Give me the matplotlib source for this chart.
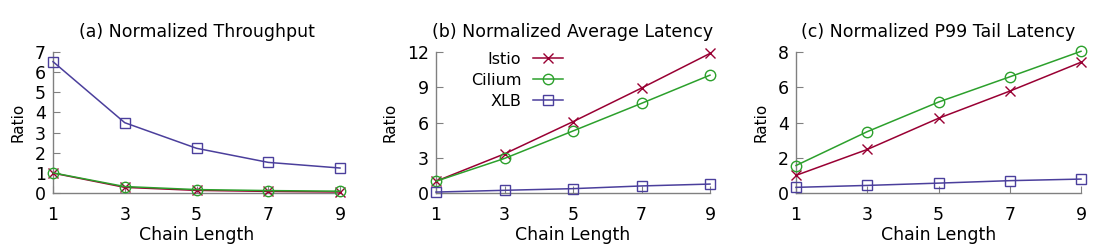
import matplotlib
matplotlib.use("Agg")
import matplotlib.pyplot as plt

chain = [1, 3, 5, 7, 9]

thr_istio = [0.99, 0.28, 0.13, 0.08, 0.05]
thr_cilium = [1.0, 0.32, 0.17, 0.12, 0.09]
thr_xlb = [6.52, 3.49, 2.22, 1.52, 1.24]

avg_istio = [1.0, 3.33, 6.07, 8.93, 11.88]
avg_cilium = [1.0, 2.94, 5.28, 7.63, 10.03]
avg_xlb = [0.08, 0.23, 0.37, 0.6, 0.76]

p99_istio = [1.0, 2.47, 4.24, 5.78, 7.42]
p99_cilium = [1.56, 3.48, 5.16, 6.59, 8.04]
p99_xlb = [0.32, 0.43, 0.56, 0.70, 0.79]

titles = ["(a) Normalized Throughput", "(b) Normalized Average Latency",
          "(c) Normalized P99 Tail Latency"]
ylims = [7, 12, 8]
yticks = [[0, 1, 2, 3, 4, 5, 6, 7], [0, 3, 6, 9, 12], [0, 2, 4, 6, 8]]

c_istio = "#990033"
c_cilium = "#2ca02c"
c_xlb = "#4b3f9c"

W, H = 1113, 247
plt.rcParams['font.family'] = ['DejaVu Sans']
fig = plt.figure(figsize=(W / 100, H / 100), dpi=100)

axes_px = [(53, 340), (436, 710), (796, 1081)]
top_px, bot_px = 52, 193

data = [(thr_istio, thr_cilium, thr_xlb), (avg_istio, avg_cilium, avg_xlb),
        (p99_istio, p99_cilium, p99_xlb)]

for i, (l, r) in enumerate(axes_px):
    ax = fig.add_axes([l / W, 1 - bot_px / H, (r - l) / W, (bot_px - top_px) / H])
    ist, cil, xlb = data[i]
    ax.plot(chain, ist, color=c_istio, marker='x', ms=7.5, mew=1.0, lw=1.1,
            mfc='none', label='Istio', clip_on=False, zorder=3)
    ax.plot(chain, cil, color=c_cilium, marker='o', ms=7.5, mew=1.0, lw=1.1,
            mfc='none', label='Cilium', clip_on=False, zorder=3)
    ax.plot(chain, xlb, color=c_xlb, marker='s', ms=7.5, mew=1.0, lw=1.1,
            mfc='none', label='XLB', clip_on=False, zorder=3)
    ax.set_xlim(1, 9)
    ax.set_ylim(0, ylims[i])
    ax.set_xticks(chain)
    ax.set_yticks(yticks[i])
    for s in ['top', 'right']:
        ax.spines[s].set_visible(False)
    for s in ['left', 'bottom']:
        ax.spines[s].set_color('#808080')
        ax.spines[s].set_linewidth(1.0)
    ax.tick_params(direction='in', length=5, color='#808080', labelsize=12.5,
                   pad=5)
    ax.tick_params(axis='x', pad=9)
    ax.set_title(titles[i], fontsize=12.5, pad=11)
    ax.set_xlabel("Chain Length", fontsize=12.5, labelpad=2)
    ax.set_ylabel("Ratio", fontsize=11, labelpad=7)
    ax.patch.set_alpha(0)
    if i == 1:
        ax.legend(loc='upper right', bbox_to_anchor=(0.463, 1.0),
                  frameon=False, markerfirst=False, fontsize=11.5,
                  handlelength=1.9, labelspacing=0.36, handletextpad=0.7,
                  borderaxespad=0, borderpad=0)

fig.savefig("out.png", dpi=100)
